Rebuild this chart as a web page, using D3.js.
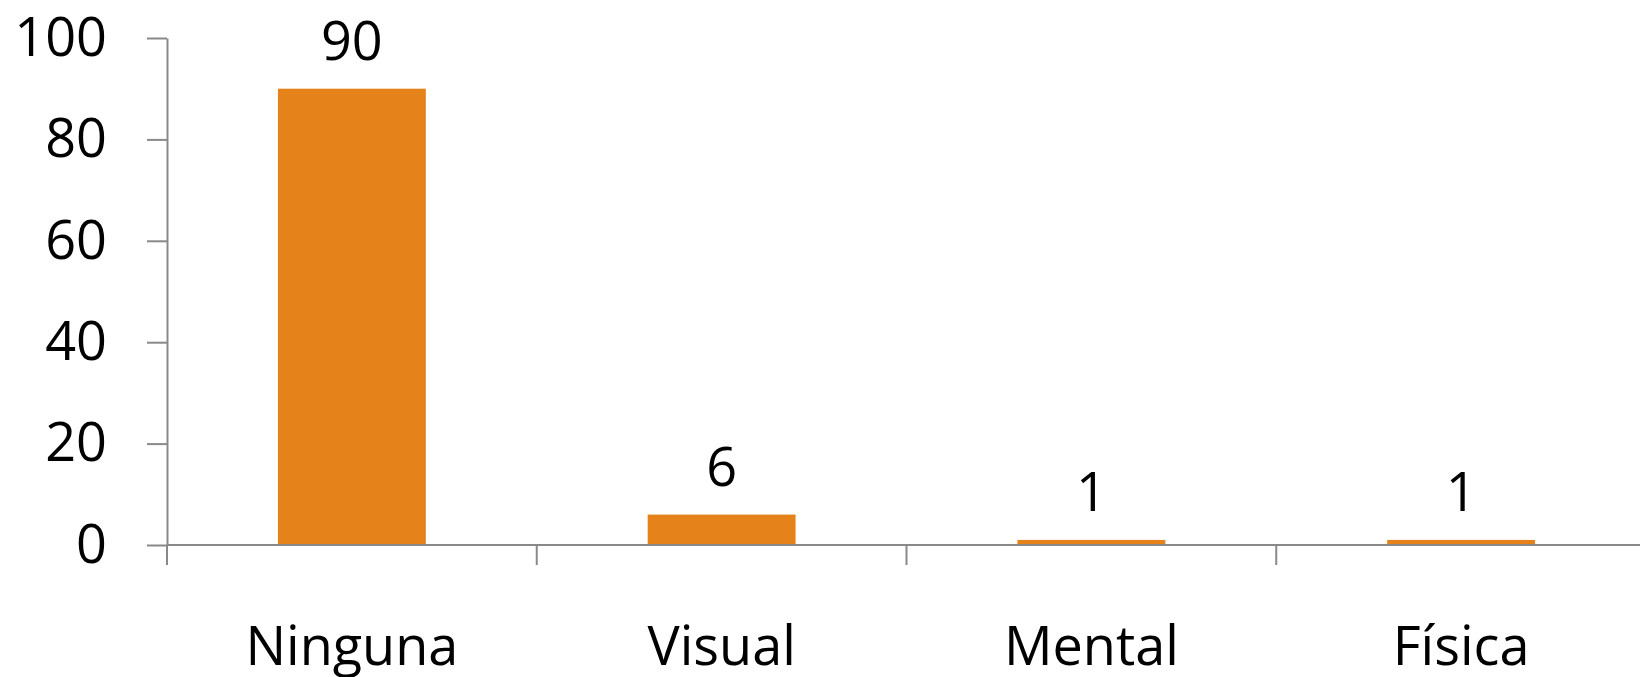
<!DOCTYPE html>
<html>
<head>
<meta charset="utf-8">
<script src="https://cdn.jsdelivr.net/npm/d3@7"></script>
<style>
  html, body { margin: 0; padding: 0; background: #ffffff; }
  svg { display: block; }
  text { font-family: "Open Sans", "Noto Sans", sans-serif; fill: #000; }
</style>
</head>
<body>
<svg id="chart" width="1640" height="677"></svg>
<script>
// Data
const categories = ["Ninguna", "Visual", "Mental", "Física"];
const values = [90, 6, 1, 1];
const yTicks = [0, 20, 40, 60, 80, 100];

const width = 1640, height = 677;
const margin = { left: 167, right: -6, top: 38, bottom: 132 };
const axisColor = "#898989";
const barColor = "#E5821A";
const fontSize = 54;

const svg = d3.select("#chart");

const x = d3.scaleBand()
  .domain(categories)
  .range([margin.left, width - margin.right])
  .paddingInner(0.6)
  .paddingOuter(0.3);

const y = d3.scaleLinear()
  .domain([0, 100])
  .range([height - margin.bottom, margin.top]);

const step = x.step();
const bandStart = d => x(d) - x.paddingOuter() * step;

// Bars
svg.append("g").selectAll("rect")
  .data(categories)
  .join("rect")
  .attr("x", d => x(d))
  .attr("y", (d, i) => y(values[i]))
  .attr("width", x.bandwidth())
  .attr("height", (d, i) => y(0) - y(values[i]))
  .attr("fill", barColor);

// Value labels
svg.append("g").selectAll("text")
  .data(categories)
  .join("text")
  .attr("x", d => x(d) + x.bandwidth() / 2)
  .attr("y", (d, i) => y(values[i]) - 29)
  .attr("text-anchor", "middle")
  .attr("font-size", fontSize)
  .text((d, i) => values[i]);

// Y axis
const yAxis = d3.axisLeft(y)
  .tickValues(yTicks)
  .tickSize(20)
  .tickPadding(40)
  .tickSizeOuter(0);

const gy = svg.append("g")
  .attr("transform", `translate(${margin.left},0)`)
  .call(yAxis);
gy.select(".domain").attr("stroke", axisColor).attr("stroke-width", 2);
gy.selectAll(".tick line").attr("stroke", axisColor).attr("stroke-width", 2);
gy.selectAll(".tick text")
  .attr("font-size", fontSize)
  .attr("font-family", "'Open Sans', 'Noto Sans', sans-serif")
  .attr("fill", "#000");

// X axis line
svg.append("line")
  .attr("x1", margin.left)
  .attr("x2", width)
  .attr("y1", y(0))
  .attr("y2", y(0))
  .attr("stroke", axisColor)
  .attr("stroke-width", 2);

// Category boundary ticks
svg.append("g").selectAll("line")
  .data(categories)
  .join("line")
  .attr("x1", d => bandStart(d))
  .attr("x2", d => bandStart(d))
  .attr("y1", y(0))
  .attr("y2", y(0) + 20)
  .attr("stroke", axisColor)
  .attr("stroke-width", 2);

// Category labels
svg.append("g").selectAll("text")
  .data(categories)
  .join("text")
  .attr("x", d => x(d) + x.bandwidth() / 2)
  .attr("y", y(0) + 120)
  .attr("text-anchor", "middle")
  .attr("font-size", fontSize)
  .text(d => d);
</script>
</body>
</html>
